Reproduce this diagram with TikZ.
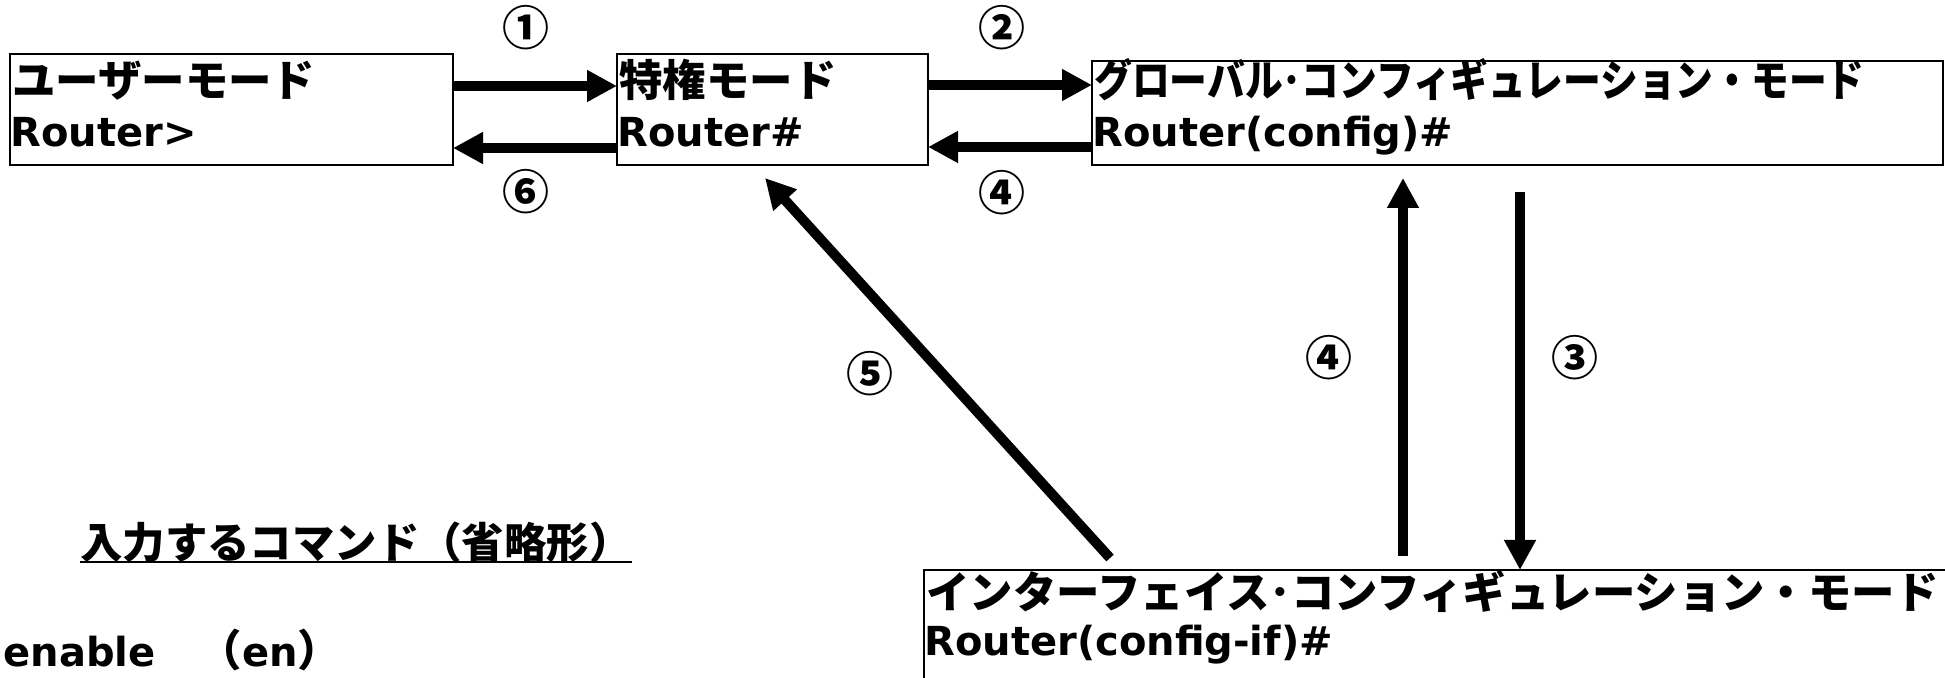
\documentclass[tikz,border=0pt]{standalone}
\usepackage{fontspec}
\usepackage{graphicx}
\setmainfont{DejaVu Sans}
\newfontfamily\jp{Noto Sans CJK JP}
\usetikzlibrary{arrows.meta,calc}
\newcommand\jpt[1]{{\jp\fontsize{21.7pt}{25pt}\selectfont #1}}

\tikzset{
  modebox/.style={draw, line width=1.1pt, inner sep=0pt, outer sep=0pt, anchor=north west},
  lat/.style={font=\bfseries\fontsize{20pt}{24pt}\selectfont, inner sep=0pt, anchor=base west},
  jap/.style={font=\jp\bfseries\fontsize{21.7pt}{25pt}\selectfont, inner sep=0pt, anchor=base west},
  num/.style={font=\jp\bfseries\fontsize{23.5pt}{26pt}\selectfont, inner sep=0pt},
  flow/.style={line width=5pt, -{Triangle[length=15pt,width=15pt]}},
}

\begin{document}
\begin{tikzpicture}[x=0.5pt, y=-0.5pt]
\useasboundingbox (0,0) rectangle (1945,678);

% mode boxes
\node[modebox, minimum width=221.5pt, minimum height=55.5pt] (user) at (10,54) {};
\node[modebox, minimum width=155.5pt, minimum height=55.5pt] (priv) at (617,54) {};
\node[modebox, minimum width=425.5pt, minimum height=52pt] (glob) at (1092,61) {};
\node[modebox, minimum width=520pt, minimum height=70pt] (intf) at (924,570) {};

% box texts
\node[jap] (userJ) at (12,97) {ユーザーモード};
\node[lat] (userR) at (10,147) {Router>};
\node[jap] (privJ) at (619,97) {特権モード};
\node[lat] (privR) at (617,147) {Router\#};
\node[jap] (globJ) at (1094,97) {\scalebox{0.87}[1]{グローバル･コンフィギュレーション・モード}};
\node[lat] (globR) at (1092,147) {Router(config)\#};
\node[jap] (intfJ) at (926,609) {インターフェイス･コンフィギュレーション・モード};
\node[lat] (intfR) at (924,655) {Router(config-if)\#};

% transitions
\draw[flow] ($(user.north east)+(0,32)$) -- ($(priv.north west)+(0,32)$);
\draw[flow] ($(priv.north west)+(0,94)$) -- ($(user.north east)+(0,94)$);
\draw[flow] ($(priv.north east)+(0,31)$) -- ($(glob.north west)+(0,24)$);
\draw[flow] ($(glob.north west)+(0,86)$) -- ($(priv.north east)+(0,93)$);
\draw[flow] ($(intf.north west)+(479,-14)$) -- ($(glob.south west)+(311,13)$);
\draw[flow] ($(glob.south west)+(428,27)$) -- ($(intf.north west)+(596,0)$);
\draw[flow] ($(intf.north west)+(186,-12)$) -- ($(priv.south west)+(148,13)$);

% step numbers
\node[num] (n1) at (526,28) {①};
\node[num] (n6) at (526,192) {⑥};
\node[num] (n2) at (1002,28) {②};
\node[num] (n4a) at (1002,193) {④};
\node[num] (n5) at (870,374) {⑤};
\node[num] (n4b) at (1329,358) {④};
\node[num] (n3) at (1575,358) {③};

% command list
\node[jap, font=\jp\bfseries\fontsize{21.2pt}{25pt}\selectfont] (cmdhead) at (80,559) {入力するコマンド（省略形）};
\draw[line width=1pt] ($(cmdhead.base west)+(0,3)$) -- ($(cmdhead.base east)+(0,3)$);
\node[lat] (cmd1) at (3,667) {enable\jpt{　（}en\jpt{）}};
\end{tikzpicture}
\end{document}
